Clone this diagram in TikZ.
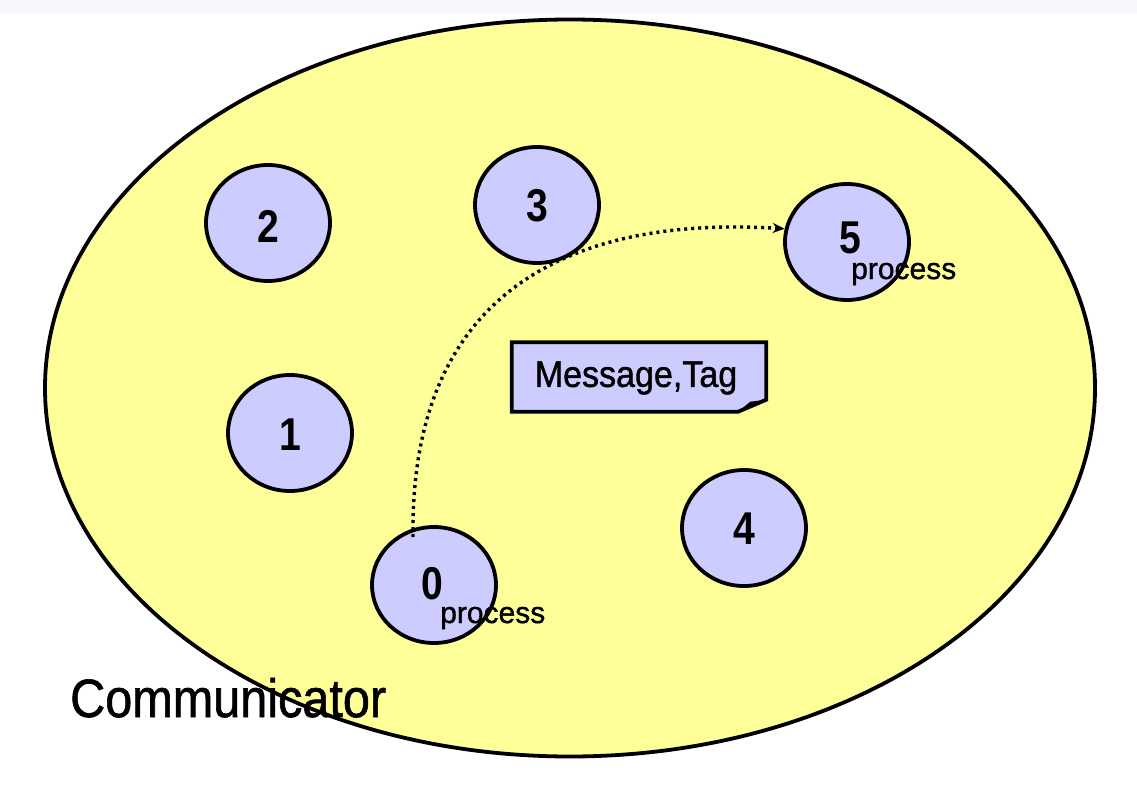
\documentclass[tikz,border=0pt]{standalone}
\usepackage{fontspec}
\setmainfont{Liberation Sans}
\newfontfamily\medfont[FakeBold=1.2]{Liberation Sans}
\usetikzlibrary{shapes.geometric,arrows.meta}
\definecolor{commyellow}{HTML}{FFFF99}
\definecolor{procblue}{HTML}{CCCCFF}
\definecolor{topband}{HTML}{F7F7FC}
\begin{document}
\begin{tikzpicture}[x=1pt,y=-1pt,
  proc/.style={ellipse,draw=black,line width=3.8pt,fill=procblue,minimum width=124pt,minimum height=116pt,inner sep=0pt},
  digit/.style={font=\fontsize{46}{46}\selectfont\bfseries,inner sep=0pt,xscale=0.85},
  sub/.style={font=\fontsize{30}{30}\selectfont\medfont,anchor=base west,inner sep=0pt},
]
\useasboundingbox (0,0) rectangle (1137,789);
\fill[white] (0,0) rectangle (1137,789);
\fill[topband] (0,0) rectangle (1137,14);
\node[ellipse,draw=black,line width=3.8pt,fill=commyellow,minimum width=1050pt,minimum height=737pt,inner sep=0pt] (comm) at (570,388) {};
\node[font=\fontsize{54}{54}\selectfont\medfont,xscale=0.9,anchor=base west,inner sep=0pt] (commlbl) at (70,717) {Communicator};
\node[proc] (n2) at (268,223) {};
\node[digit] (d2) at (268,226) {2};
\node[proc] (n3) at (537,205) {};
\node[digit] (d3) at (537,206) {3};
\node[proc] (n5) at (847,242) {};
\node[proc] (n1) at (290,433) {};
\node[digit] (d1) at (290,435) {1};
\node[proc] (n4) at (744,528) {};
\node[digit] (d4) at (744,529) {4};
\node[proc] (n0) at (434,585) {};
\node[digit] (d0) at (432,584) {0};
\node[digit] (d5) at (850,238) {5};
\node[sub] (p0) at (440,623) {process};
\node[sub] (p5) at (851,279) {process};
% message box
\node[minimum width=254pt,minimum height=69pt,inner sep=0pt] (msg) at (639,377) {};
\fill[procblue,draw=black,line width=3.8pt,line join=miter]
  (msg.north west) -- (msg.north east) -- ([yshift=12pt]msg.south east) -- ([xshift=-28pt]msg.south east) -- (msg.south west) -- cycle;
\fill[black] ([xshift=-28pt]msg.south east) -- ([xshift=-16pt,yshift=10pt]msg.south east) -- ([yshift=12pt]msg.south east) -- cycle;
\node[font=\fontsize{37}{37}\selectfont\medfont,xscale=0.92,inner sep=0pt] (msgtxt) at (636,378) {Message,Tag};
% dotted arrow
\coordinate (s) at (413,537);
\draw[line width=3.4pt,dash pattern=on 3pt off 4pt,-{Stealth[length=12pt,width=10pt]}]
  (s) .. controls (410,300) and (560,215) .. (n5.168);
\end{tikzpicture}
\end{document}
